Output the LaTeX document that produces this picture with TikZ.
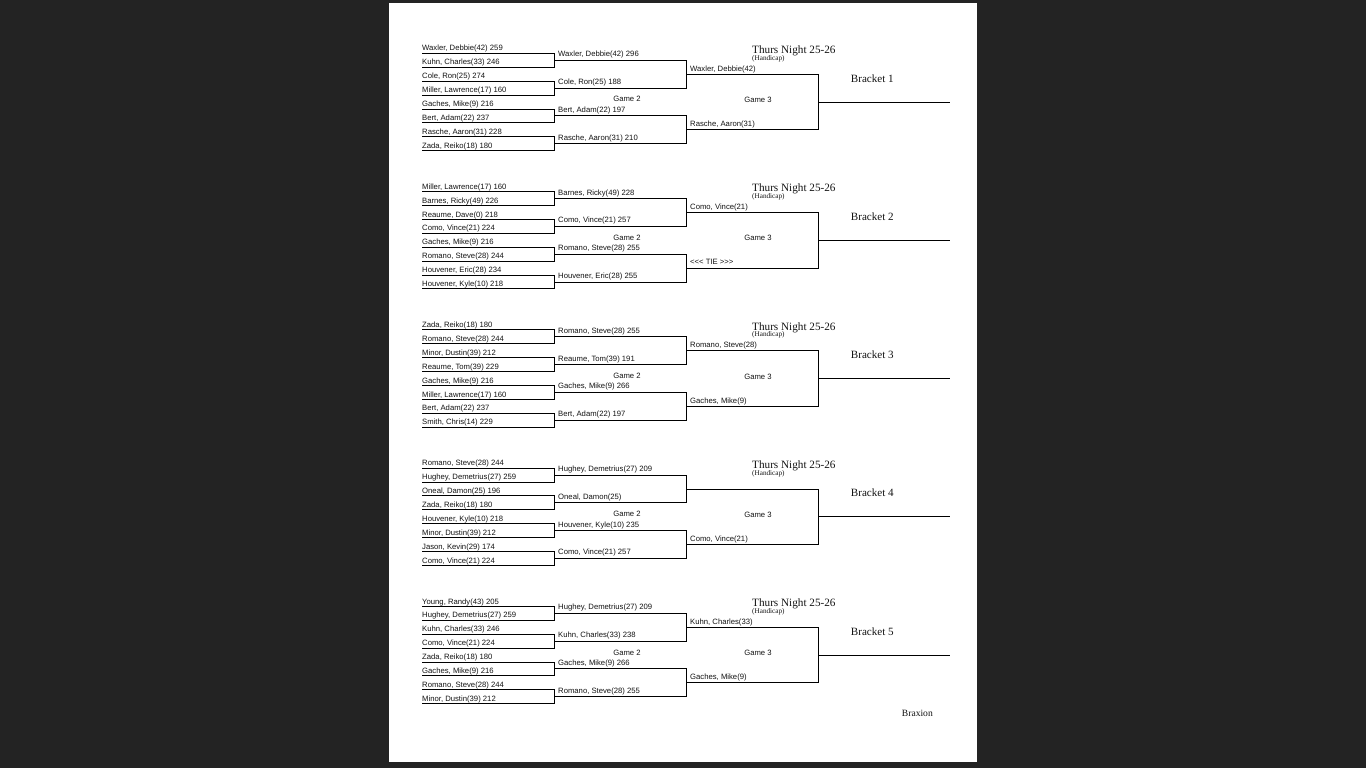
\documentclass[tikz,border=0pt]{standalone}
\usepackage{fontspec}
\setmainfont{Liberation Serif}
\newfontfamily\arialf{Liberation Sans}
\definecolor{bgdark}{RGB}{35,35,35}
\definecolor{ink}{RGB}{20,20,20}
\begin{document}
\begin{tikzpicture}[x=1pt,y=-1pt,
  ln/.style={draw=black,line width=0.95pt},
  lbl/.style={anchor=base west,inner sep=0pt,text=ink,font=\arialf\fontsize{7.7}{9}\selectfont},
  gamelbl/.style={anchor=base,inner sep=0pt,text=ink,font=\arialf\fontsize{7.7}{9}\selectfont},
  ttl/.style={anchor=base west,inner sep=0pt,text=ink,font=\fontsize{11.2}{13}\selectfont},
  hcap/.style={anchor=base west,inner sep=0pt,text=ink,font=\fontsize{7.2}{8}\selectfont},
  brk/.style={anchor=base west,inner sep=0pt,text=ink,font=\fontsize{11.1}{13}\selectfont}]
\useasboundingbox (0,0) rectangle (1366,768);
\fill[bgdark] (0,0) rectangle (1366,768);
\fill[white] (389,3) rectangle (977,762);

\newcommand\drawbracket[1]{%
  \pgfmathsetmacro\by{#1*138.25}%
  \foreach \j in {0,...,3}{%
    \draw[ln] (422,{\by+53.4+27.8*\j}) -- (554,{\by+53.4+27.8*\j}) -- (554,{\by+67.3+27.8*\j}) -- (422,{\by+67.3+27.8*\j});
  }%
  \foreach \k in {0,1}{%
    \draw[ln] (554,{\by+60.35+55.6*\k}) -- (686,{\by+60.35+55.6*\k}) -- (686,{\by+88.15+55.6*\k}) -- (554,{\by+88.15+55.6*\k});
  }%
  \draw[ln] (686,{\by+74.25}) -- (818,{\by+74.25}) -- (818,{\by+129.85}) -- (686,{\by+129.85});
  \draw[ln] (818,{\by+102.05}) -- (950,{\by+102.05});
  \node[gamelbl] (g2-#1) at (627,{\by+102}) {Game 2};
  \node[gamelbl] (g3-#1) at (758,{\by+102.7}) {Game 3};
  \node[ttl] (tn-#1) at (752,{\by+53.7}) {Thurs Night 25-26};
  \node[hcap] (hc-#1) at (752,{\by+60.3}) {(Handicap)};
}
\newcommand\slotA[3]{\node[lbl] (a-#1-#2) at (422,{#1*138.25+53.4+13.9*#2-2.4}) {#3};}
\newcommand\slotB[3]{\node[lbl] (b-#1-#2) at (558,{#1*138.25+60.35+27.8*#2-3.6}) {#3};}
\newcommand\slotC[3]{\node[lbl] (c-#1-#2) at (690,{#1*138.25+74.25+55.6*#2-3.2}) {#3};}
\newcommand\brktitle[2]{\node[brk] (bt-#1) at (850.7,{#1*138.25+82}) {Bracket #2};}

\foreach \b in {0,...,4}{\drawbracket{\b}}
\brktitle{0}{1}\brktitle{1}{2}\brktitle{2}{3}\brktitle{3}{4}\brktitle{4}{5}

% Bracket 1
\slotA{0}{0}{Waxler, Debbie(42) 259}
\slotA{0}{1}{Kuhn, Charles(33) 246}
\slotA{0}{2}{Cole, Ron(25) 274}
\slotA{0}{3}{Miller, Lawrence(17) 160}
\slotA{0}{4}{Gaches, Mike(9) 216}
\slotA{0}{5}{Bert, Adam(22) 237}
\slotA{0}{6}{Rasche, Aaron(31) 228}
\slotA{0}{7}{Zada, Reiko(18) 180}
\slotB{0}{0}{Waxler, Debbie(42) 296}
\slotB{0}{1}{Cole, Ron(25) 188}
\slotB{0}{2}{Bert, Adam(22) 197}
\slotB{0}{3}{Rasche, Aaron(31) 210}
\slotC{0}{0}{Waxler, Debbie(42)}
\slotC{0}{1}{Rasche, Aaron(31)}

% Bracket 2
\slotA{1}{0}{Miller, Lawrence(17) 160}
\slotA{1}{1}{Barnes, Ricky(49) 226}
\slotA{1}{2}{Reaume, Dave(0) 218}
\slotA{1}{3}{Como, Vince(21) 224}
\slotA{1}{4}{Gaches, Mike(9) 216}
\slotA{1}{5}{Romano, Steve(28) 244}
\slotA{1}{6}{Houvener, Eric(28) 234}
\slotA{1}{7}{Houvener, Kyle(10) 218}
\slotB{1}{0}{Barnes, Ricky(49) 228}
\slotB{1}{1}{Como, Vince(21) 257}
\slotB{1}{2}{Romano, Steve(28) 255}
\slotB{1}{3}{Houvener, Eric(28) 255}
\slotC{1}{0}{Como, Vince(21)}
\slotC{1}{1}{<<< TIE >>>}

% Bracket 3
\slotA{2}{0}{Zada, Reiko(18) 180}
\slotA{2}{1}{Romano, Steve(28) 244}
\slotA{2}{2}{Minor, Dustin(39) 212}
\slotA{2}{3}{Reaume, Tom(39) 229}
\slotA{2}{4}{Gaches, Mike(9) 216}
\slotA{2}{5}{Miller, Lawrence(17) 160}
\slotA{2}{6}{Bert, Adam(22) 237}
\slotA{2}{7}{Smith, Chris(14) 229}
\slotB{2}{0}{Romano, Steve(28) 255}
\slotB{2}{1}{Reaume, Tom(39) 191}
\slotB{2}{2}{Gaches, Mike(9) 266}
\slotB{2}{3}{Bert, Adam(22) 197}
\slotC{2}{0}{Romano, Steve(28)}
\slotC{2}{1}{Gaches, Mike(9)}

% Bracket 4
\slotA{3}{0}{Romano, Steve(28) 244}
\slotA{3}{1}{Hughey, Demetrius(27) 259}
\slotA{3}{2}{Oneal, Damon(25) 196}
\slotA{3}{3}{Zada, Reiko(18) 180}
\slotA{3}{4}{Houvener, Kyle(10) 218}
\slotA{3}{5}{Minor, Dustin(39) 212}
\slotA{3}{6}{Jason, Kevin(29) 174}
\slotA{3}{7}{Como, Vince(21) 224}
\slotB{3}{0}{Hughey, Demetrius(27) 209}
\slotB{3}{1}{Oneal, Damon(25)}
\slotB{3}{2}{Houvener, Kyle(10) 235}
\slotB{3}{3}{Como, Vince(21) 257}
\slotC{3}{1}{Como, Vince(21)}

% Bracket 5
\slotA{4}{0}{Young, Randy(43) 205}
\slotA{4}{1}{Hughey, Demetrius(27) 259}
\slotA{4}{2}{Kuhn, Charles(33) 246}
\slotA{4}{3}{Como, Vince(21) 224}
\slotA{4}{4}{Zada, Reiko(18) 180}
\slotA{4}{5}{Gaches, Mike(9) 216}
\slotA{4}{6}{Romano, Steve(28) 244}
\slotA{4}{7}{Minor, Dustin(39) 212}
\slotB{4}{0}{Hughey, Demetrius(27) 209}
\slotB{4}{1}{Kuhn, Charles(33) 238}
\slotB{4}{2}{Gaches, Mike(9) 266}
\slotB{4}{3}{Romano, Steve(28) 255}
\slotC{4}{0}{Kuhn, Charles(33)}
\slotC{4}{1}{Gaches, Mike(9)}

\node[anchor=base west,inner sep=0pt,text=ink,font=\fontsize{9.6}{11}\selectfont] (brax) at (901.7,716.5) {Braxion};
\end{tikzpicture}
\end{document}
